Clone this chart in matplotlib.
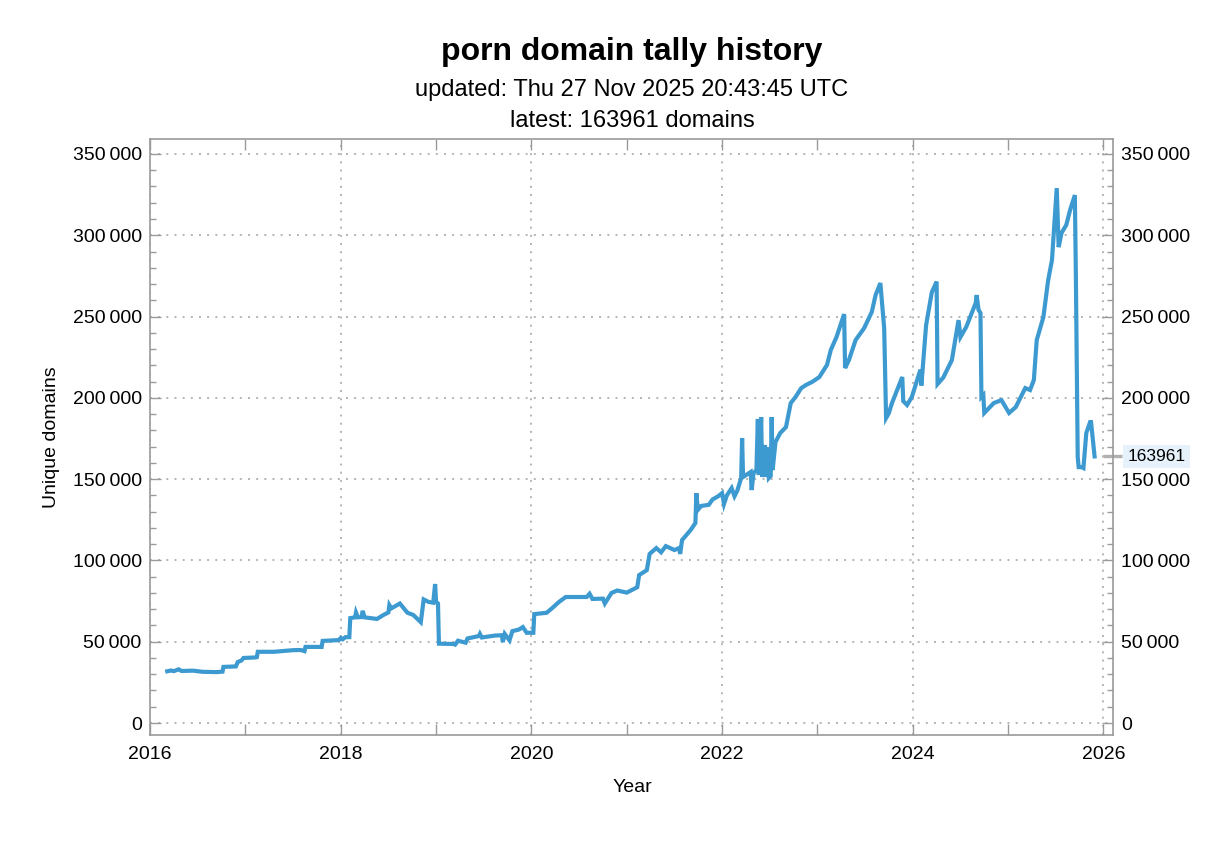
import matplotlib
matplotlib.use("Agg")
import matplotlib.pyplot as plt
from matplotlib.ticker import FixedLocator, FuncFormatter, MultipleLocator

# decimal year of each snapshot and the domain count at that time
years = [
    2016.18, 2016.22, 2016.25, 2016.30, 2016.33, 2016.45, 2016.55, 2016.70, 2016.76, 2016.77,
    2016.90, 2016.92, 2016.96, 2016.98, 2017.10, 2017.12, 2017.13, 2017.30, 2017.50, 2017.58,
    2017.62, 2017.63, 2017.80, 2017.81, 2017.98, 2018.00, 2018.02, 2018.05, 2018.09, 2018.10,
    2018.15, 2018.16, 2018.18, 2018.22, 2018.23, 2018.25, 2018.38, 2018.45, 2018.50, 2018.51,
    2018.53, 2018.62, 2018.70, 2018.76, 2018.84, 2018.87, 2018.92, 2018.97, 2018.99, 2019.00,
    2019.02, 2019.03, 2019.18, 2019.20, 2019.23, 2019.31, 2019.33, 2019.45, 2019.46, 2019.48,
    2019.62, 2019.69, 2019.70, 2019.72, 2019.77, 2019.80, 2019.87, 2019.91, 2019.95, 2020.02,
    2020.03, 2020.16, 2020.22, 2020.29, 2020.36, 2020.58, 2020.61, 2020.64, 2020.75, 2020.77,
    2020.84, 2020.90, 2021.00, 2021.11, 2021.13, 2021.21, 2021.24, 2021.31, 2021.36, 2021.41,
    2021.50, 2021.55, 2021.56, 2021.58, 2021.67, 2021.72, 2021.73, 2021.745, 2021.78, 2021.86,
    2021.90, 2021.96, 2022.00, 2022.02, 2022.05, 2022.10, 2022.13, 2022.16, 2022.20, 2022.21,
    2022.22, 2022.30, 2022.31, 2022.33, 2022.36, 2022.375, 2022.385, 2022.41, 2022.42, 2022.45,
    2022.46, 2022.47, 2022.49, 2022.51, 2022.52, 2022.53, 2022.56, 2022.61, 2022.67, 2022.72,
    2022.77, 2022.83, 2022.88, 2022.95, 2023.02, 2023.10, 2023.14, 2023.20, 2023.28, 2023.29,
    2023.33, 2023.40, 2023.49, 2023.57, 2023.61, 2023.66, 2023.70, 2023.72, 2023.75, 2023.78,
    2023.89, 2023.90, 2023.94, 2023.99, 2024.08, 2024.09, 2024.14, 2024.20, 2024.25, 2024.26,
    2024.32, 2024.41, 2024.48, 2024.50, 2024.56, 2024.66, 2024.67, 2024.69, 2024.71, 2024.72,
    2024.74, 2024.75, 2024.85, 2024.93, 2025.01, 2025.08, 2025.18, 2025.23, 2025.27, 2025.30,
    2025.37, 2025.42, 2025.46, 2025.51, 2025.53, 2025.56, 2025.61, 2025.65, 2025.70, 2025.71,
    2025.73, 2025.74, 2025.77, 2025.79, 2025.82, 2025.86, 2025.87, 2025.907,
]
domains = [
    31800, 32300, 31900, 33000, 32000, 32200, 31500, 31300, 31600, 34500,
    34800, 37500, 38500, 40000, 40300, 40500, 43800, 43800, 44800, 44900,
    44200, 46800, 46800, 50500, 51000, 52300, 51500, 52800, 52800, 64500,
    65000, 68000, 65000, 65200, 69000, 65000, 64000, 66500, 68000, 72500,
    70500, 73500, 67800, 66500, 62000, 76000, 74500, 74000, 85500, 74500,
    73500, 48800, 48600, 48200, 50600, 49400, 52000, 53500, 54800, 52600,
    53800, 54000, 49800, 54800, 50800, 56500, 57500, 59000, 55500, 55500,
    67000, 67800, 70800, 74500, 77500, 77500, 79500, 76300, 76500, 73500,
    80000, 81500, 80200, 83500, 91000, 94000, 104000, 107600, 105000, 108800,
    106400, 107600, 104000, 112500, 118700, 123000, 141400, 131000, 133500, 134200,
    137500, 139500, 141400, 134700, 140000, 144500, 139500, 143000, 150700, 175300,
    151300, 154400, 143300, 153800, 155600, 187000, 152500, 188200, 151300, 171000,
    151300, 169700, 150700, 152000, 188200, 155600, 172800, 178400, 182000, 196800,
    200500, 206000, 207900, 210000, 212800, 220200, 229400, 237400, 251500, 218300,
    223200, 235500, 242900, 252800, 263200, 270600, 242900, 187600, 190700, 196500,
    212800, 198000, 195600, 200500, 217300, 207600, 244800, 265000, 271500, 208500,
    212500, 223200, 247800, 237400, 243500, 258300, 263200, 254000, 252200, 200500,
    201700, 190700, 196800, 198600, 190700, 194300, 206000, 204800, 211000, 235500,
    249700, 272400, 284700, 329000, 292700, 301400, 306300, 315500, 324700, 278600,
    163600, 157400, 157400, 156800, 178400, 185100, 185100, 163961,
]

TITLE = "porn domain tally history"
UPDATED = "updated: Thu 27 Nov 2025 20:43:45 UTC"
LATEST = 163961

LINE_COLOR = "#3d9ad1"
FRAME_COLOR = "#9a9a9a"
GRID_COLOR = "#b4b4b4"

plt.rcParams["font.family"] = ["Liberation Sans", "DejaVu Sans"]


def thin_thousands(v, _pos):
    return f"{int(round(v)):,}".replace(",", "\u2009")


def main() -> None:
    fig = plt.figure(figsize=(12.32, 8.41), dpi=100)
    ax = fig.add_axes([0.1218, 0.126, 0.7816, 0.7087])

    ax.plot(years, domains, color=LINE_COLOR, lw=3.0, solid_joinstyle="miter")

    ax.set_xlim(2016.0, 2026.1)
    ax.set_ylim(-7400, 359200)

    ax.xaxis.set_major_locator(FixedLocator([2016, 2018, 2020, 2022, 2024, 2026]))
    ax.xaxis.set_minor_locator(FixedLocator([2017, 2019, 2021, 2023, 2025]))
    ax.xaxis.set_major_formatter(FuncFormatter(lambda v, _p: f"{int(v)}"))
    ax.yaxis.set_major_locator(MultipleLocator(50000))
    ax.yaxis.set_minor_locator(MultipleLocator(10000))
    ax.yaxis.set_major_formatter(FuncFormatter(thin_thousands))

    ax.tick_params(which="both", direction="in", colors=FRAME_COLOR, labelcolor="black",
                   labelsize=14, top=True, right=True, labelright=True)
    ax.tick_params(axis="y", which="major", length=8, width=1, pad=6)
    ax.tick_params(axis="y", which="minor", length=4, width=1)
    ax.tick_params(axis="x", which="both", length=8, width=1, pad=8)

    for side in ax.spines.values():
        side.set_color(FRAME_COLOR)
        side.set_linewidth(1.2)

    ax.grid(True, which="major", color=GRID_COLOR, linestyle=(0, (1, 3.2)), linewidth=1.4)

    # marker for the latest value on the right edge
    trans = ax.get_yaxis_transform()
    ax.plot([0.9896, 1.0093], [LATEST, LATEST], transform=trans, color="#b0b0b0",
            lw=2.4, clip_on=False, solid_capstyle="butt")
    ax.text(1.0150, LATEST, str(LATEST), transform=trans, fontsize=12.5, va="center", ha="left",
            bbox=dict(boxstyle="square,pad=0.25", facecolor="#e6f1fb", edgecolor="none"))

    fig.text(0.513, 0.9380, TITLE, ha="center", va="center", fontsize=23, fontweight="bold")
    fig.text(0.513, 0.8930, UPDATED, ha="center", va="center", fontsize=17)
    fig.text(0.513, 0.8560, f"latest: {LATEST} domains", ha="center", va="center", fontsize=17)
    fig.text(0.0422, 0.4804, "Unique domains", rotation=90, ha="center", va="center", fontsize=14)
    fig.text(0.513, 0.0642, "Year", ha="center", va="center", fontsize=14)

    fig.savefig("out.png", dpi=100)
    plt.close(fig)


if __name__ == "__main__":
    main()
